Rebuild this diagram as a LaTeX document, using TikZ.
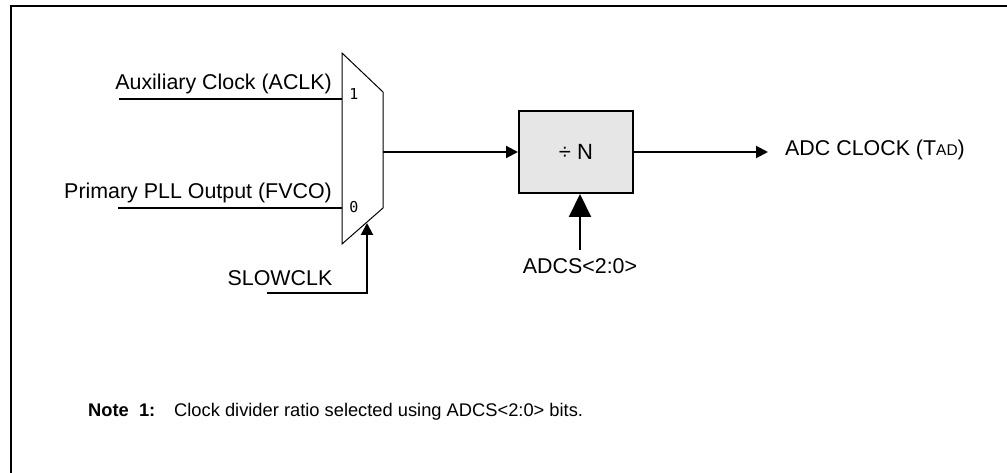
\documentclass[tikz,border=0pt]{standalone}
\usepackage{fontspec}
\setmainfont{Liberation Sans}
\newfontfamily\digfont{DejaVu Sans Mono}
\usetikzlibrary{arrows.meta}
\definecolor{boxgray}{RGB}{230,230,230}
\tikzset{
  lbl/.style={inner sep=0pt, font=\fontsize{21.4}{25}\selectfont},
  notelbl/.style={inner sep=0pt, font=\fontsize{18.3}{22}\selectfont},
  dig/.style={inner sep=0pt, font=\digfont\fontsize{15}{17}\selectfont},
  wire/.style={line width=2pt},
  smallarrow/.style={wire, -{Triangle[length=12pt,width=12pt]}},
  bigarrow/.style={wire, -{Triangle[length=23pt,width=22pt]}},
  divbox/.style={draw, line width=2pt, fill=boxgray, minimum width=114pt, minimum height=82pt, inner sep=0pt, font=\fontsize{22}{26}\selectfont},
}
\begin{document}
\begin{tikzpicture}[x=1pt,y=-1pt]
\useasboundingbox (0,0) rectangle (1007,473);
% frame
\draw[line width=2pt] (11,480) -- (11,6.5) -- (1015,6.5);
% mux
\coordinate (mTL) at (342,53);
\coordinate (mTR) at (383,92);
\coordinate (mBR) at (383,208);
\coordinate (mBL) at (342,244);
\draw[line width=1pt, line join=miter] (mTL) -- (mTR) -- (mBR) -- (mBL) -- cycle;
\coordinate (in1) at (342,99);
\coordinate (in0) at (342,208);
\coordinate (in1s) at (119,99);
\coordinate (in0s) at (118,208);
\coordinate (mout) at (383,152);
\coordinate (sel) at (367,223);
\coordinate (sels) at (267,293);
\node[dig, anchor=base] (d1) at (354,100) {1};
\node[dig, anchor=base] (d0) at (354,213) {0};
\node[lbl, anchor=base east] (aclk) at (332,90) {Auxiliary Clock (ACLK)};
\node[lbl, anchor=base east] (fvco) at (332,199) {Primary PLL Output (FVCO)};
\node[lbl, anchor=base] (slow) at (280,285) {SLOWCLK};
\draw[wire] (in1s) -- (in1);
\draw[wire] (in0s) -- (in0);
\draw[smallarrow] (sels) -| (sel);
% divider
\node[divbox] (div) at (576,152) {÷ N};
\draw[smallarrow] (mout) -- (div.west);
\coordinate (outend) at (768,152);
\draw[smallarrow] (div.east) -- (outend);
\node[lbl, anchor=base west] (adcclk) at (785,156) {ADC CLOCK (T{\fontsize{15.5}{18}\selectfont AD})};
\coordinate (adcsS) at (580,250);
\draw[bigarrow] (adcsS) -- (div.south -| adcsS);
\node[lbl, anchor=base] (adcs) at (580,273) {ADCS<2:0>};
% note
\node[notelbl, anchor=base west, font=\fontsize{18.3}{22}\selectfont\bfseries] (note) at (88,416) {Note\ \ 1:};
\node[notelbl, anchor=base west] (notetext) at (174,416) {Clock divider ratio selected using ADCS<2:0> bits.};
\end{tikzpicture}
\end{document}
